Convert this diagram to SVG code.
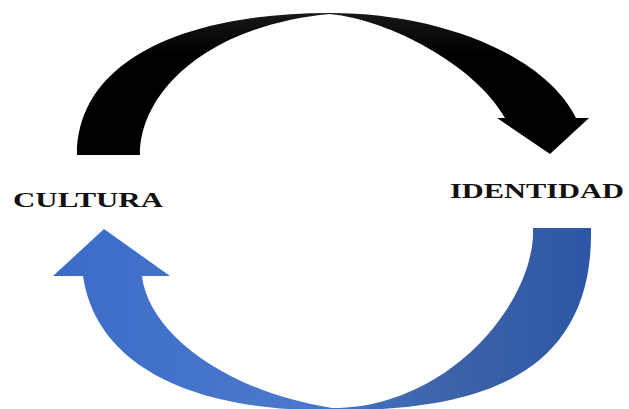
<svg xmlns="http://www.w3.org/2000/svg" width="629" height="409" viewBox="0 0 629 409">
  <style>
    .label { font-family: "Liberation Serif", "Times New Roman", serif; font-weight: bold; fill: #111; }
  </style>
  <defs>
    <linearGradient id="blueGrad" gradientUnits="userSpaceOnUse" x1="53" y1="300" x2="591" y2="300">
      <stop offset="0" stop-color="#3b6cc8"/>
      <stop offset="0.45" stop-color="#4a78cb"/>
      <stop offset="0.75" stop-color="#3c62a8"/>
      <stop offset="1" stop-color="#2d57a6"/>
    </linearGradient>
    <linearGradient id="blackGrad" gradientUnits="userSpaceOnUse" x1="0" y1="10" x2="0" y2="155">
      <stop offset="0" stop-color="#1a1a1a"/>
      <stop offset="0.3" stop-color="#000"/>
      <stop offset="1" stop-color="#000"/>
    </linearGradient>
  </defs>
  <rect width="629" height="409" fill="#fff"/>
  <g id="connectors">
    <path id="arrow-cultura-identidad" fill="url(#blackGrad)"
      d="M77,155 C77,60 185,13 330,13 C440,13 545,55 576,118 L589,118 L550,154 L497,118 L505,118 C475,65 390,20 330,14 C210,25 140,90 140,155 Z"/>
    <path id="arrow-identidad-cultura" fill="url(#blueGrad)"
      d="M591,228 L533,228 C536,300 450,408 332,408 C220,390 148,330 142,276 L170,276 L104,229 L53,276 L83,276 C97,370 200,412 332,410 C480,412 594,375 591,228 Z"/>
  </g>
  <g id="node-cultura">
    <text class="label" x="13" y="207" font-size="21" textLength="150" lengthAdjust="spacingAndGlyphs">CULTURA</text>
  </g>
  <g id="node-identidad">
    <text class="label" x="450" y="198" font-size="22" textLength="174" lengthAdjust="spacingAndGlyphs">IDENTIDAD</text>
  </g>
</svg>
